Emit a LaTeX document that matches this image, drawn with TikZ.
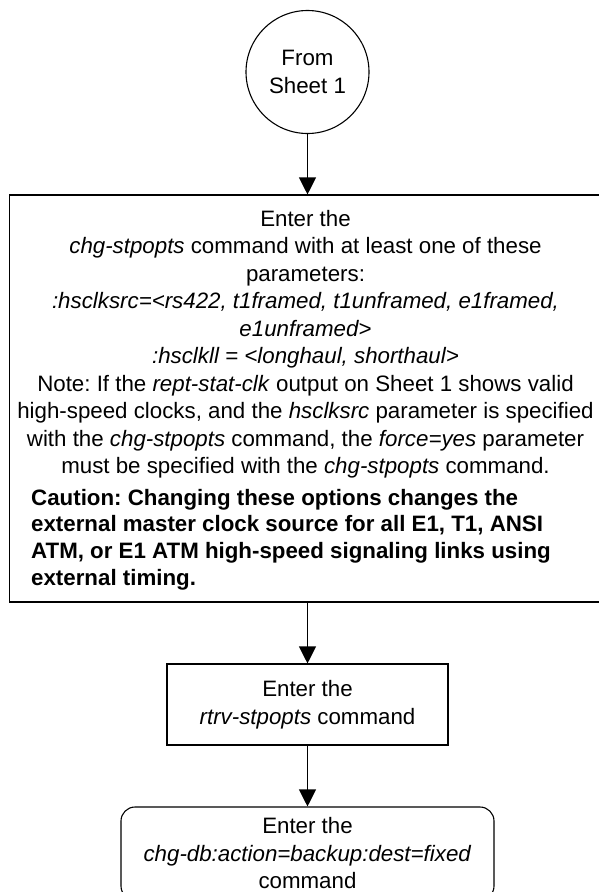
\documentclass[tikz,border=0pt]{standalone}
\usepackage{fontspec}
\setmainfont{Liberation Sans}
\frenchspacing
\usetikzlibrary{arrows.meta}
\tikzset{
  base/.style={font=\fontsize{22.3}{27.5}\selectfont},
  boxline/.style={draw, line width=1.1pt},
  arr/.style={line width=1.1pt, -{Triangle[length=17pt,width=17pt]}},
}
\begin{document}
\begin{tikzpicture}[x=1pt,y=-1pt]
\useasboundingbox (0,0) rectangle (599,892);
\clip (0,0) rectangle (599,892);
% start circle
\node[boxline, base, circle, minimum size=123pt, inner sep=0pt, align=center] (start) at (307.5,72) {From\\Sheet 1};
% big box
\node[boxline, minimum width=596pt, minimum height=407pt, inner sep=0pt] (big) at (307.5,398.5) {};
\node[base, anchor=north, inner sep=0pt, align=center] (bigtxt) at (305.5,210) {Enter the\\
\textit{chg-stpopts} command with at least one of these\\
parameters:\\
\textit{:hsclksrc=<rs422, t1framed, t1unframed, e1framed,}\\
\textit{e1unframed>}\\
\textit{:hsclkll = <longhaul, shorthaul>}\\
Note: If the \textit{rept-stat-clk} output on Sheet 1 shows valid\\
high-speed clocks, and the \textit{hsclksrc} parameter is specified\\
with the \textit{chg-stpopts} command, the \textit{force=yes} parameter\\
must be specified with the \textit{chg-stpopts} command.};
\node[anchor=north west, inner sep=0pt, align=left, font=\fontsize{22.3}{26.6}\selectfont\bfseries] (caution) at (31,489) {Caution: Changing these options changes the\\
external master clock source for all E1, T1, ANSI\\
ATM, or E1 ATM high-speed signaling links using\\
external timing.};
% rtrv box
\node[boxline, base, minimum width=281pt, minimum height=81pt, inner sep=0pt, align=center] (rtrv) at (307.5,704.5) {Enter the\\\textit{rtrv-stpopts} command};
% chg-db rounded box
\node[boxline, base, rounded corners=14pt, minimum width=373pt, minimum height=93pt, inner sep=0pt, align=center] (chgdb) at (307.5,853.5) {Enter the\\\textit{chg-db:action=backup:dest=fixed}\\command};
% connectors
\draw[arr] (start.south) -- (start.south |- big.north);
\draw[arr] (big.south) -- (rtrv.north);
\draw[arr] (rtrv.south) -- (chgdb.north);
\end{tikzpicture}
\end{document}
